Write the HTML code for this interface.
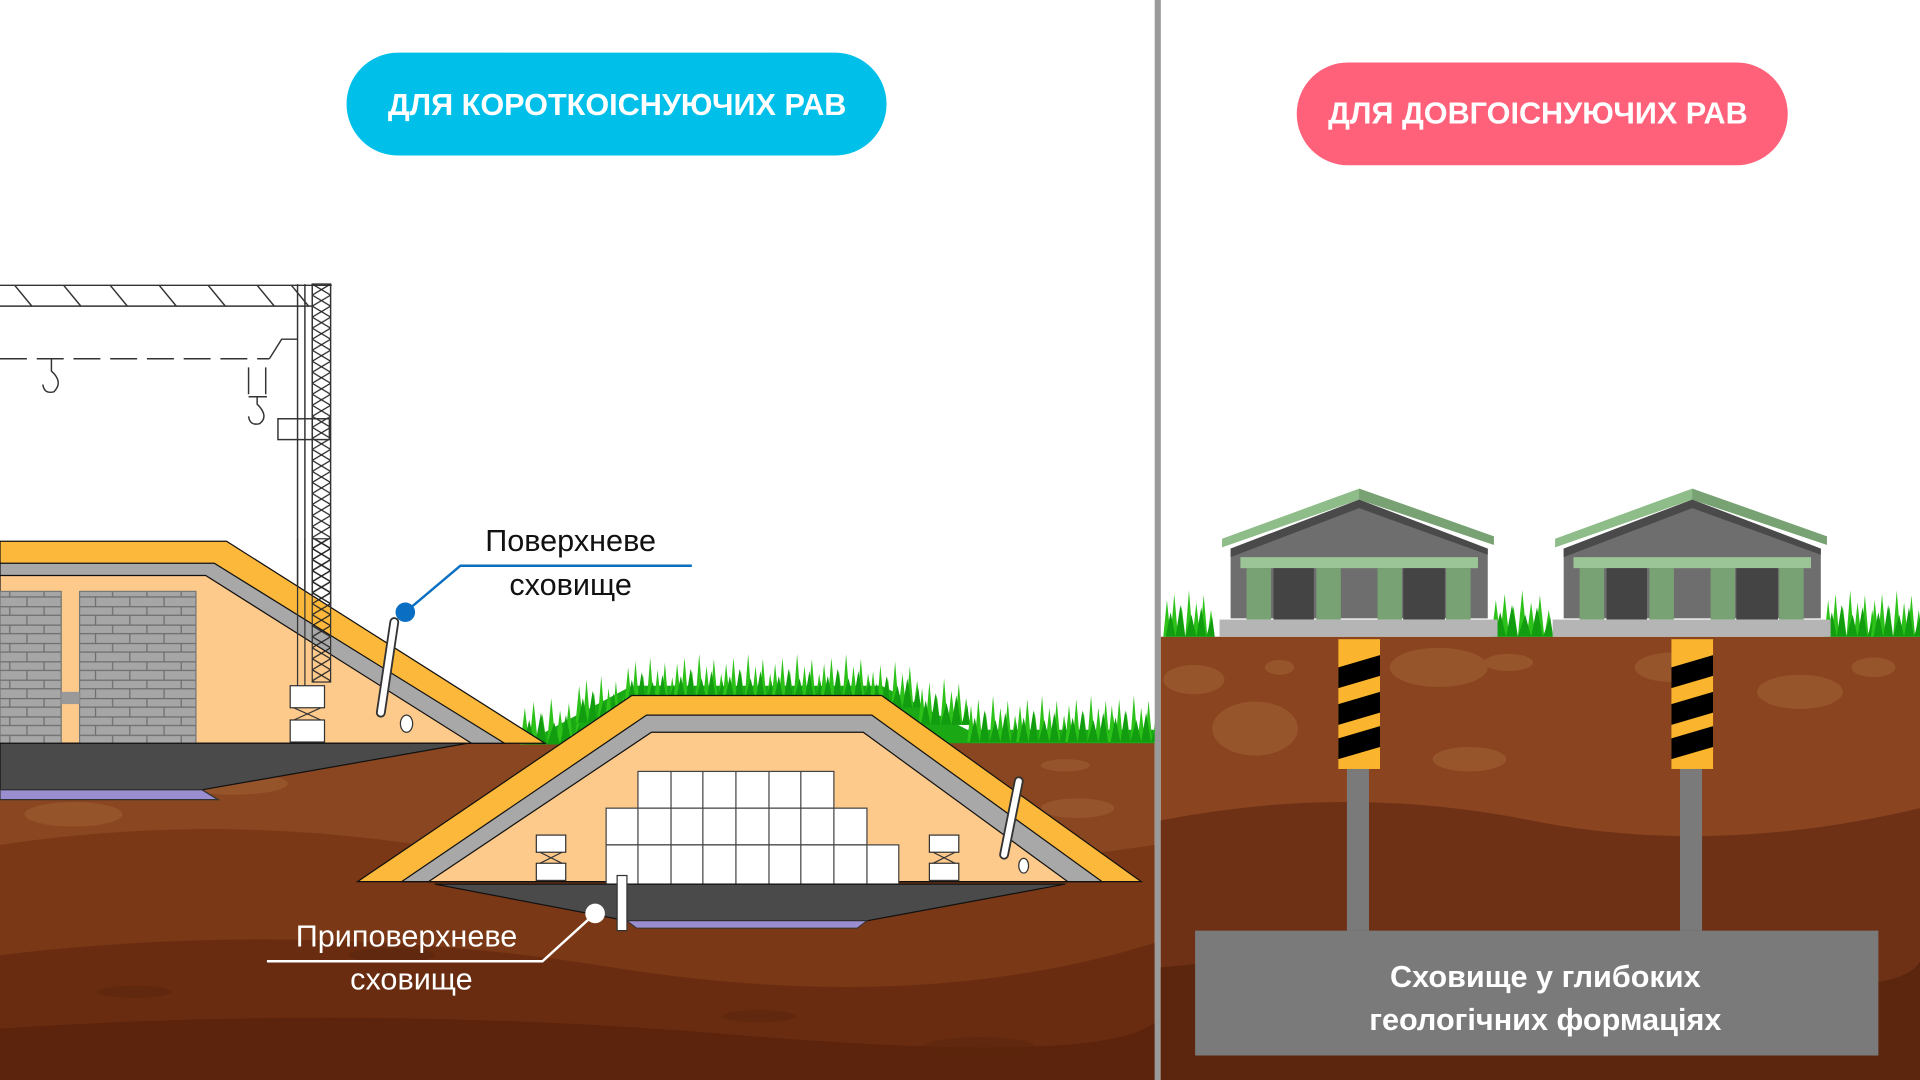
<!DOCTYPE html>
<html><head><meta charset="utf-8"><style>
html,body{margin:0;padding:0;background:#fff;overflow:hidden}
svg{display:block}
text{font-family:"Liberation Sans",sans-serif}
</style></head><body>
<svg width="1920" height="1080" viewBox="0 0 1568 882" xmlns="http://www.w3.org/2000/svg">
<defs>
<pattern id="brick" width="28" height="15" patternUnits="userSpaceOnUse">
<rect width="28" height="15" fill="#a6a6a6"/>
<path d="M0 0.5H28M0 7.5H28M8 0V7.5M22 7.5V15" stroke="#6d6d6d" stroke-width="1"/>
</pattern>
<pattern id="lat" width="15" height="18" patternUnits="userSpaceOnUse" x="255" y="232">
<path d="M0 0L15 9L0 18M15 0L0 9L15 18" stroke="#222" stroke-width="1" fill="none"/>
</pattern>
<g id="grass">
<path d="M0 40 L3 10 L6 40 L9 5 L12 40 L15 15 L18 40 L21 2 L24 40 L27 12 L30 40 L33 6 L36 40 L39 18 L42 40Z" fill="#2dc21a"/>
<path d="M2 40 L6 20 L10 40 L14 14 L18 40 L23 22 L27 40 L31 16 L35 40 L40 24 L42 40Z" fill="#129c10"/>
</g>
</defs>
<rect width="1568" height="882" fill="#fff"/>

<!-- LEFT SOIL -->
<path d="M0 605 H943 V882 H0Z" fill="#8a4620"/>
<path d="M0 690 Q200 660 400 700 T943 690 V882 H0Z" fill="#7a3816"/>
<path d="M0 780 Q250 750 500 790 T943 770 V882 H0Z" fill="#6a2c10"/>
<path d="M0 840 Q300 820 600 845 T943 835 V882 H0Z" fill="#5c240c"/>
<g fill="#9b5a30" opacity=".7">
<ellipse cx="60" cy="665" rx="40" ry="10"/><ellipse cx="190" cy="640" rx="45" ry="9"/>
<ellipse cx="880" cy="660" rx="30" ry="8"/><ellipse cx="870" cy="625" rx="20" ry="5"/>
</g>
<g fill="#5a260e" opacity=".6">
<ellipse cx="320" cy="780" rx="35" ry="6"/><ellipse cx="110" cy="810" rx="30" ry="5"/><ellipse cx="800" cy="855" rx="45" ry="8"/><ellipse cx="620" cy="830" rx="30" ry="5"/>
</g>

<!-- grass near-surface mound -->
<path d="M430 606 L516 560 H720 L790 596 H943 V607 H430Z" fill="#1aa814"/>
<g>
<use href="#grass" transform="translate(425,568) scale(1.2,1)"/>
<use href="#grass" transform="translate(470,550)"/>
<use href="#grass" transform="translate(510,535)"/>
<use href="#grass" transform="translate(550,532)"/>
<use href="#grass" transform="translate(590,532)"/>
<use href="#grass" transform="translate(630,532)"/>
<use href="#grass" transform="translate(670,532)"/>
<use href="#grass" transform="translate(710,538)"/>
<use href="#grass" transform="translate(750,552)"/>
<use href="#grass" transform="translate(790,566)"/>
<use href="#grass" transform="translate(830,566)"/>
<use href="#grass" transform="translate(870,566)"/>
<use href="#grass" transform="translate(905,566)"/>
</g>

<!-- crane -->
<g stroke="#333" stroke-width="1.2" fill="none">
<path d="M0 233 H271 M0 250 H255"/>
<path d="M12 233 L26 250 M52 233 L66 250 M90 233 L104 250 M130 233 L144 250 M170 233 L184 250 M210 233 L224 250 M238 233 L252 250"/>
<rect x="255" y="232" width="15" height="325" fill="url(#lat)"/>
<path d="M243 232 V560 M249 232 V560"/>
<path d="M0 293 H220" stroke-dasharray="22 8"/>
<path d="M220 293 L230 277 H243"/>
<path d="M42 293 V303 Q52 312 44 320 Q36 322 35 314"/>
<path d="M203 300 V322 M217 300 V322 M203 324 H218"/>
<path d="M210 324 V330 Q220 340 212 346 Q204 348 203 340"/>
<rect x="227" y="342" width="42" height="17"/>
</g>

<!-- LEFT SURFACE STORAGE -->
<path d="M0 442 H185 L445 607 H0Z" fill="#fbb83a" stroke="#111" stroke-width="1"/>
<path d="M0 460 H175 L412 607 H0Z" fill="#a8a8a8" stroke="#111" stroke-width="1"/>
<path d="M0 470 H168 L385 607 H0Z" fill="#fdca8c" stroke="#111" stroke-width="1"/>
<rect x="0" y="483" width="50" height="124" fill="url(#brick)" stroke="#777"/>
<rect x="65" y="483" width="95" height="124" fill="url(#brick)" stroke="#777"/>
<rect x="50" y="565" width="15" height="10" fill="#999"/>
<g stroke="#333" stroke-width="1" fill="none">
<path d="M243 440 V560 M249 440 V560"/>
<rect x="255" y="440" width="15" height="117" fill="url(#lat)"/>
</g>
<g fill="#fff" stroke="#333">
<rect x="237" y="560" width="28" height="18"/><rect x="237" y="588" width="28" height="18"/>
<path d="M240 578 L262 588 M262 578 L240 588" fill="none"/>
</g>
<line x1="322" y1="508" x2="311" y2="582" stroke="#333" stroke-width="8" stroke-linecap="round"/>
<line x1="322" y1="508" x2="311" y2="582" stroke="#fff" stroke-width="5" stroke-linecap="round"/>
<ellipse cx="332" cy="591" rx="5" ry="7" fill="#fff" stroke="#333"/>
<path d="M0 607 H382 L165 645 H0Z" fill="#4a4a4a" stroke="#111"/>
<path d="M0 645 H165 L178 653 H0Z" fill="#9a8ed0" stroke="#333"/>

<!-- NEAR SURFACE -->
<path d="M292 720 L516 568 H720 L932 720Z" fill="#fbb83a" stroke="#111"/>
<path d="M328 720 L528 584 H712 L900 720Z" fill="#a8a8a8" stroke="#111"/>
<path d="M350 720 L532 598 H705 L872 720Z" fill="#fdca8c" stroke="#111"/>
<g fill="#fff" stroke="#444" stroke-width="1">
<rect x="521" y="630" width="160" height="30"/>
<rect x="495" y="660" width="213" height="30"/>
<rect x="495" y="690" width="239" height="32"/>
<path d="M548 630V722 M574 630V722 M601 630V722 M628 630V722 M654 630V722 M521 660V722 M681 660V722 M708 690V722" fill="none"/>
</g>
<g fill="#fff" stroke="#333">
<rect x="438" y="682" width="24" height="14"/><rect x="438" y="705" width="24" height="14"/>
<path d="M441 696 L459 705 M459 696 L441 705" fill="none"/>
<rect x="759" y="682" width="24" height="14"/><rect x="759" y="705" width="24" height="14"/>
<path d="M762 696 L780 705 M780 696 L762 705" fill="none"/>
</g>
<line x1="832" y1="638" x2="820" y2="698" stroke="#333" stroke-width="8" stroke-linecap="round"/>
<line x1="832" y1="638" x2="820" y2="698" stroke="#fff" stroke-width="5" stroke-linecap="round"/>
<ellipse cx="836" cy="707" rx="4" ry="6" fill="#fff" stroke="#333"/>
<path d="M355 722 H870 L708 752 H512Z" fill="#4a4a4a" stroke="#111"/>
<path d="M512 752 H708 L700 758 H520Z" fill="#9a8ed0" stroke="#333" stroke-width=".8"/>
<rect x="504" y="715" width="8" height="45" fill="#fff" stroke="#333"/>

<!-- labels -->
<path d="M331 500 L376 462 H565" stroke="#0a6fc2" stroke-width="2" fill="none"/>
<circle cx="331" cy="500" r="8" fill="#0a6fc2"/>
<text x="466" y="450" font-size="25" text-anchor="middle" fill="#111">Поверхневе</text>
<text x="466" y="486" font-size="25" text-anchor="middle" fill="#111">сховище</text>
<path d="M486 746 L443 785 H218" stroke="#fff" stroke-width="2" fill="none"/>
<circle cx="486" cy="746" r="8" fill="#fff"/>
<text x="332" y="773" font-size="25" text-anchor="middle" fill="#fff">Приповерхневе</text>
<text x="336" y="808" font-size="25" text-anchor="middle" fill="#fff">сховище</text>

<!-- pills -->
<rect x="283" y="43" width="441" height="84" rx="42" fill="#00c0ea"/>
<text x="504" y="94" font-size="25" font-weight="bold" text-anchor="middle" fill="#fff">ДЛЯ КОРОТКОІСНУЮЧИХ РАВ</text>
<rect x="1059" y="51" width="401" height="84" rx="42" fill="#ff607a"/>
<text x="1256" y="101" font-size="25" font-weight="bold" text-anchor="middle" fill="#fff">ДЛЯ ДОВГОІСНУЮЧИХ РАВ</text>

<!-- divider -->
<rect x="943" y="0" width="5" height="882" fill="#9a9a9a"/>

<!-- RIGHT SOIL -->
<path d="M948 520 H1568 V882 H948Z" fill="#8a4420"/>
<path d="M948 670 Q1100 640 1250 670 T1568 660 V882 H948Z" fill="#6e3116"/>
<path d="M948 790 Q1150 770 1350 795 T1568 785 V882 H948Z" fill="#5c260e"/>
<g fill="#9b5a30" opacity=".8">
<ellipse cx="975" cy="555" rx="25" ry="12"/><ellipse cx="1045" cy="545" rx="12" ry="6"/>
<ellipse cx="1025" cy="595" rx="35" ry="22"/><ellipse cx="1175" cy="545" rx="40" ry="16"/>
<ellipse cx="1232" cy="541" rx="20" ry="7"/><ellipse cx="1365" cy="545" rx="30" ry="12"/>
<ellipse cx="1470" cy="565" rx="35" ry="14"/><ellipse cx="1530" cy="545" rx="18" ry="8"/>
<ellipse cx="1200" cy="620" rx="30" ry="10"/>
</g>

<!-- grass right -->
<use href="#grass" transform="translate(950,480)"/>
<use href="#grass" transform="translate(1218,480) scale(1.2,1)"/>
<use href="#grass" transform="translate(1490,480)"/>
<use href="#grass" transform="translate(1528,480)"/>

<!-- buildings -->
<g id="bld">
<path d="M998 440 L1110 399 L1220 438 V445 L1110 408 L998 447Z" fill="#8fbd8a"/>
<path d="M1110 399 L1220 438 V445 L1110 408Z" fill="#78a274"/>
<path d="M1005 448 L1110 408 L1215 448 V505 H1005Z" fill="#6e6e6e"/>
<path d="M1005 448 L1110 408 L1215 448 V453 L1110 415 L1005 455Z" fill="#4a4a4a"/>
<rect x="1013" y="455" width="194" height="9" fill="#9cc597"/>
<rect x="1018" y="464" width="20" height="42" fill="#78a274"/>
<rect x="1040" y="464" width="33" height="42" fill="#444"/>
<rect x="1075" y="464" width="20" height="42" fill="#78a274"/>
<rect x="1125" y="464" width="20" height="42" fill="#78a274"/>
<rect x="1146" y="464" width="34" height="42" fill="#444"/>
<rect x="1181" y="464" width="20" height="42" fill="#78a274"/>
<rect x="996" y="506" width="227" height="14" fill="#b5b5b5"/>
</g>
<use href="#bld" transform="translate(272,0)"/>

<!-- shafts -->
<g id="shaft">
<rect x="1100" y="628" width="18" height="132" fill="#7a7a7a"/>
<rect x="1093" y="522" width="34" height="106" fill="#fbb42d"/>
<path d="M1093 545 L1127 535 V552 L1093 562Z M1093 575 L1127 565 V582 L1093 592Z M1093 603 L1127 593 V610 L1093 620Z" fill="#000"/>
</g>
<use href="#shaft" transform="translate(272,0)"/>

<rect x="976" y="760" width="558" height="102" fill="#7a7a7a"/>
<text x="1262" y="806" font-size="25" font-weight="bold" text-anchor="middle" fill="#fff">Сховище у глибоких</text>
<text x="1262" y="841" font-size="25" font-weight="bold" text-anchor="middle" fill="#fff">геологічних формаціях</text>
</svg>
</body></html>
